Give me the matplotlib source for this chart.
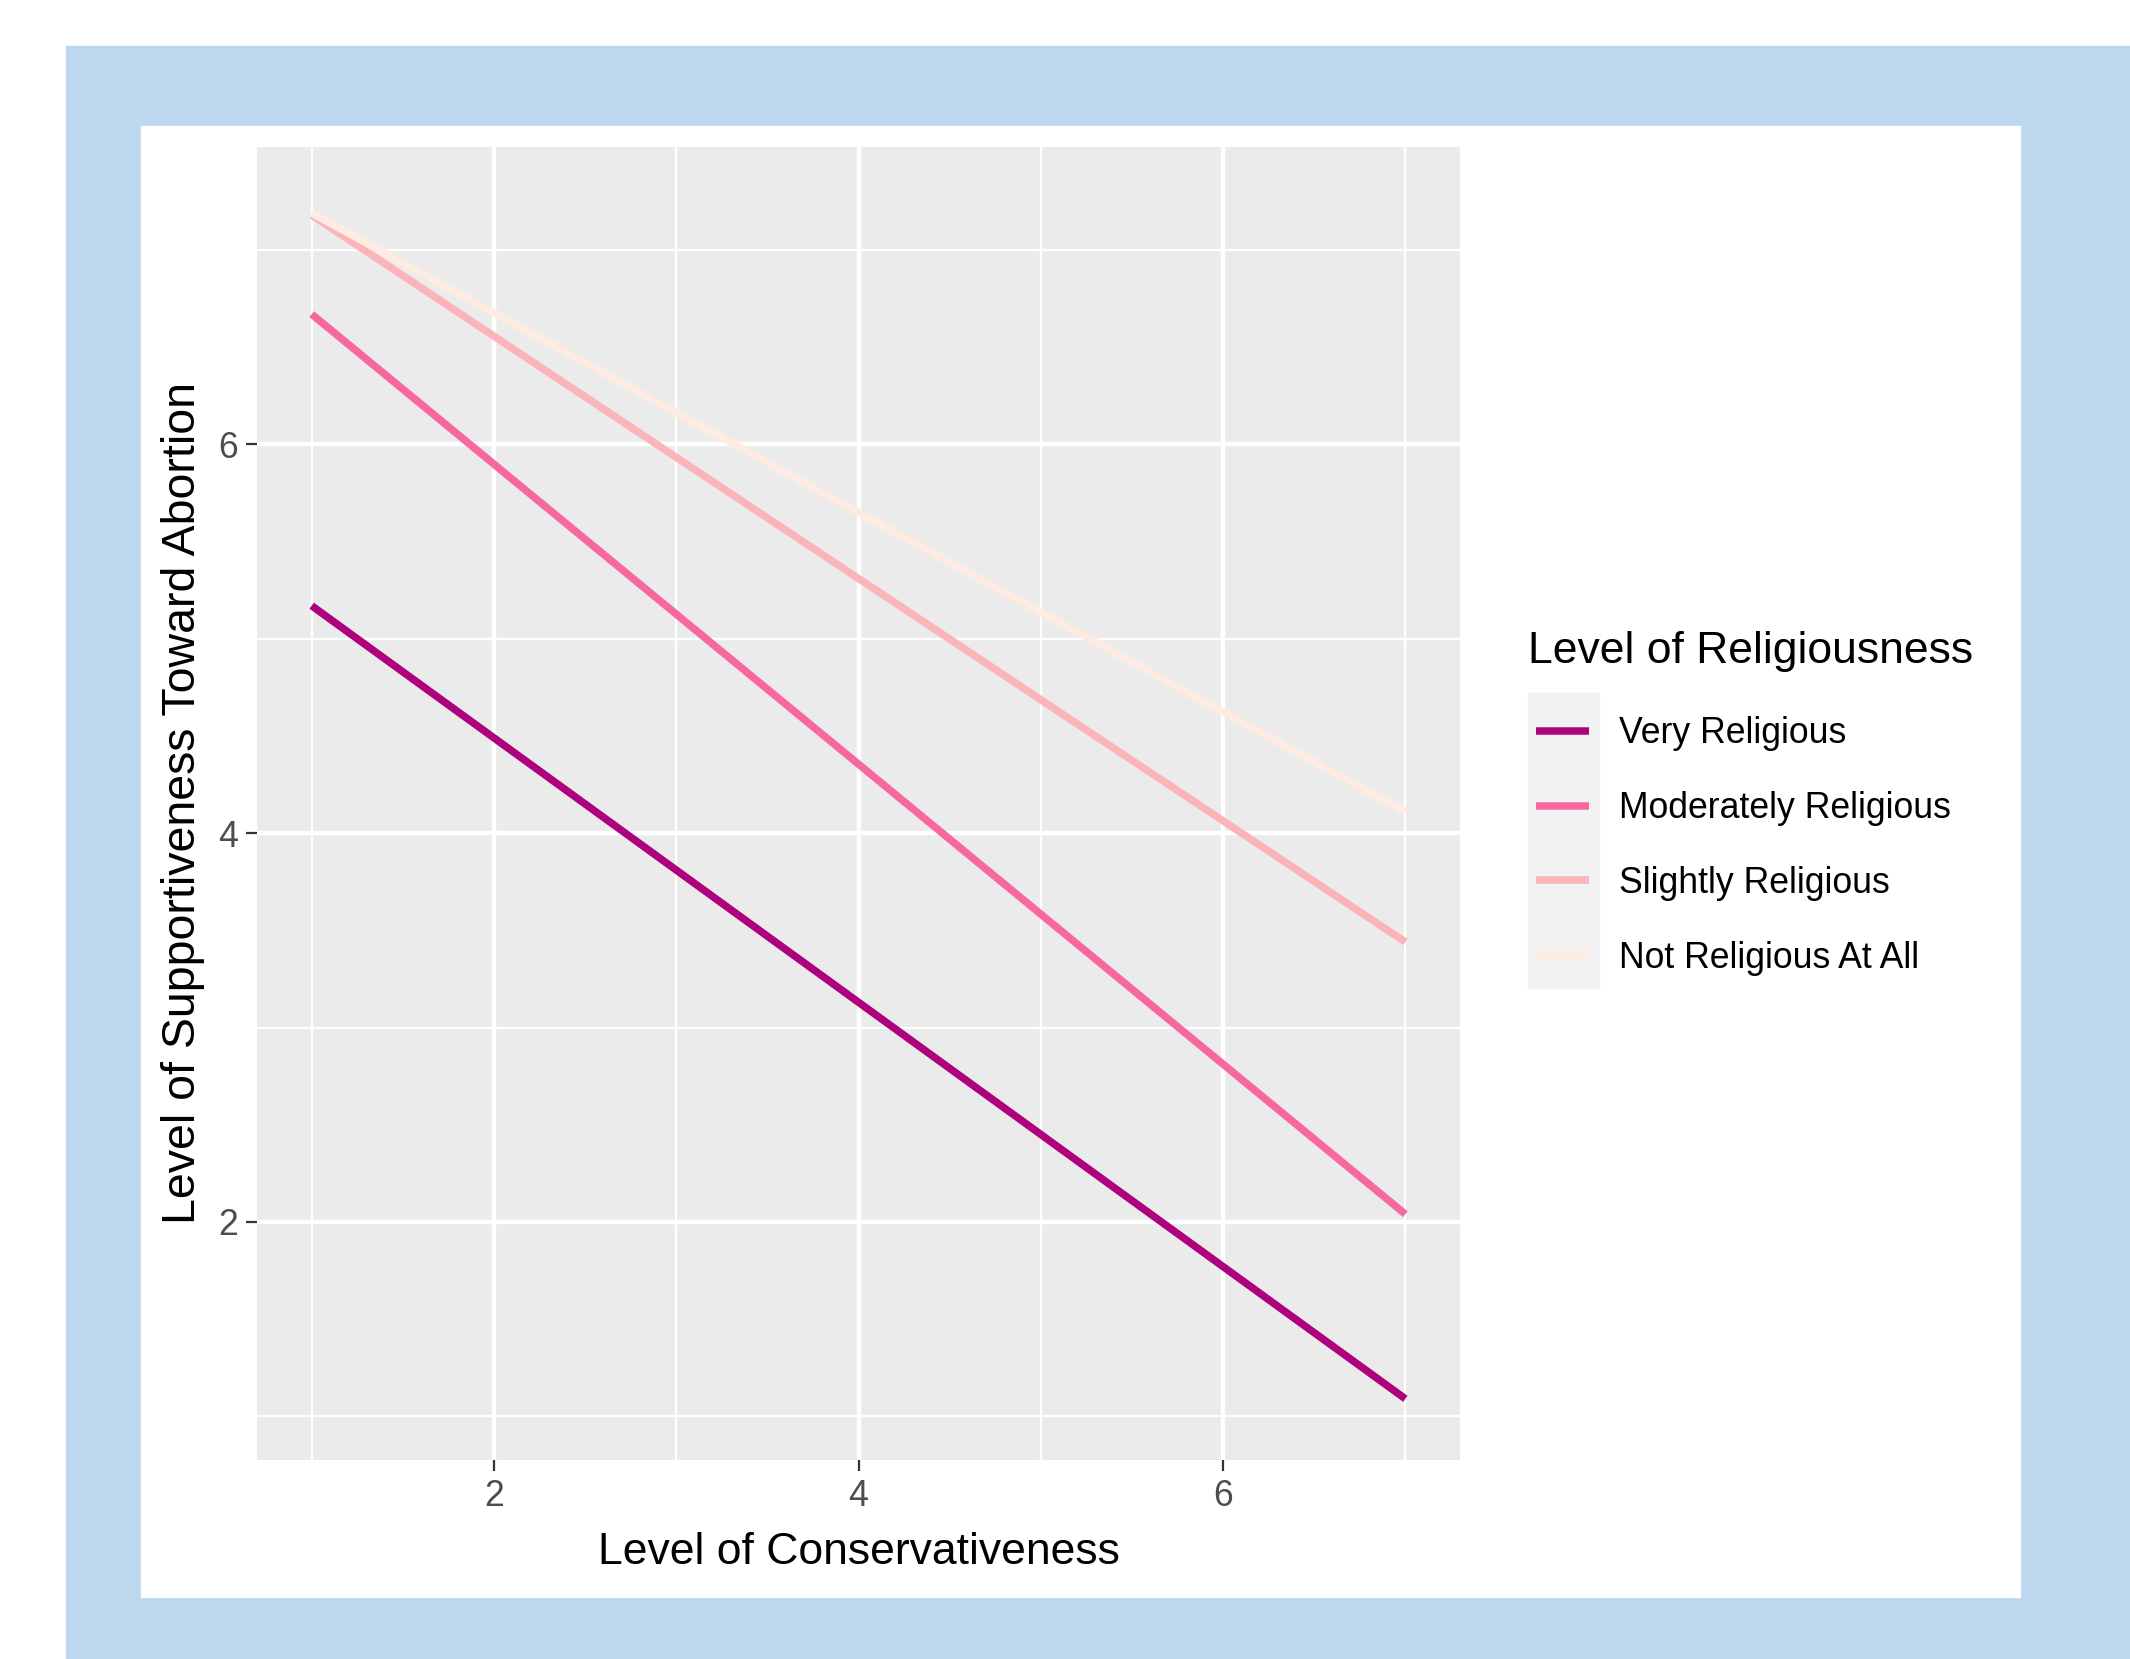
import matplotlib.pyplot as plt
from matplotlib.patches import Rectangle

plt.rcParams['font.family'] = ['Liberation Sans', 'DejaVu Sans']

# Fitted lines: conservativeness 1 -> 7, one line per religiousness group
groups = ['Very Religious', 'Moderately Religious', 'Slightly Religious', 'Not Religious At All']
colors = ['#AE017E', '#F768A1', '#FBB4B9', '#FEEBE2']
conservativeness = [1, 7]
very = [5.17, 1.09]
moderately = [6.67, 2.04]
slightly = [7.18, 3.44]
not_at_all = [7.19, 4.11]
series = [very, moderately, slightly, not_at_all]

x_ticks = [2, 4, 6]
y_ticks = [2, 4, 6]
minor_ticks = [1, 3, 5, 7]

W, H = 2130, 1659
fig = plt.figure(figsize=(W / 100, H / 100), dpi=100)
fig.patch.set_facecolor('white')

# blue frame and white card behind the plot
fig.patches.append(Rectangle((66 / W, 0), 1 - 66 / W, (H - 46) / H,
                             transform=fig.transFigure, color='#BDD7EE', zorder=-2))
fig.patches.append(Rectangle((141 / W, 1 - 1597 / H), (2020 - 141) / W, (1597 - 126) / H,
                             transform=fig.transFigure, color='white', zorder=-1))

ax = fig.add_axes([257 / W, 1 - 1460 / H, (1460 - 257) / W, (1460 - 147) / H])
ax.set_facecolor('#EBEBEB')
for s in ax.spines.values():
    s.set_visible(False)

for name, vals, c in zip(groups, series, colors):
    ax.plot(conservativeness, vals, color=c, lw=5.4, solid_capstyle='butt', label=name)

ax.set_xlim(0.7, 7.3)
ax.set_ylim(0.775, 7.53)
ax.set_xticks(x_ticks)
ax.set_yticks(y_ticks)
ax.set_xticks(minor_ticks, minor=True)
ax.set_yticks(minor_ticks, minor=True)
ax.grid(True, which='major', color='white', lw=3.2)
ax.grid(True, which='minor', color='white', lw=1.6)
ax.set_axisbelow(True)
ax.tick_params(which='major', length=8, width=1.6, color='#333333',
               labelsize=25.7, labelcolor='#4D4D4D', pad=6)
ax.tick_params(which='minor', length=0)

ax.set_xlabel('Level of Conservativeness', fontsize=32, labelpad=13)
ax.set_ylabel('Level of Supportiveness Toward Abortion', fontsize=33.5, labelpad=9)

# legend: grey key column, title placed as text
fig.patches.append(Rectangle((1528 / W, 1 - 988 / H), 71 / W, 295 / H,
                             transform=fig.transFigure, color='#F2F2F2', zorder=-0.5))
fig.text(1528 / W, 1 - 652 / H, 'Level of Religiousness', fontsize=32,
         ha='left', va='center')
leg = ax.legend(loc='center left',
                bbox_to_anchor=(1536 / W, 1 - 846 / H), bbox_transform=fig.transFigure,
                frameon=False, fontsize=25.7,
                handlelength=1.48, handletextpad=0.84, labelspacing=1.12,
                borderpad=0, borderaxespad=0)

fig.savefig('out.png', dpi=100)
